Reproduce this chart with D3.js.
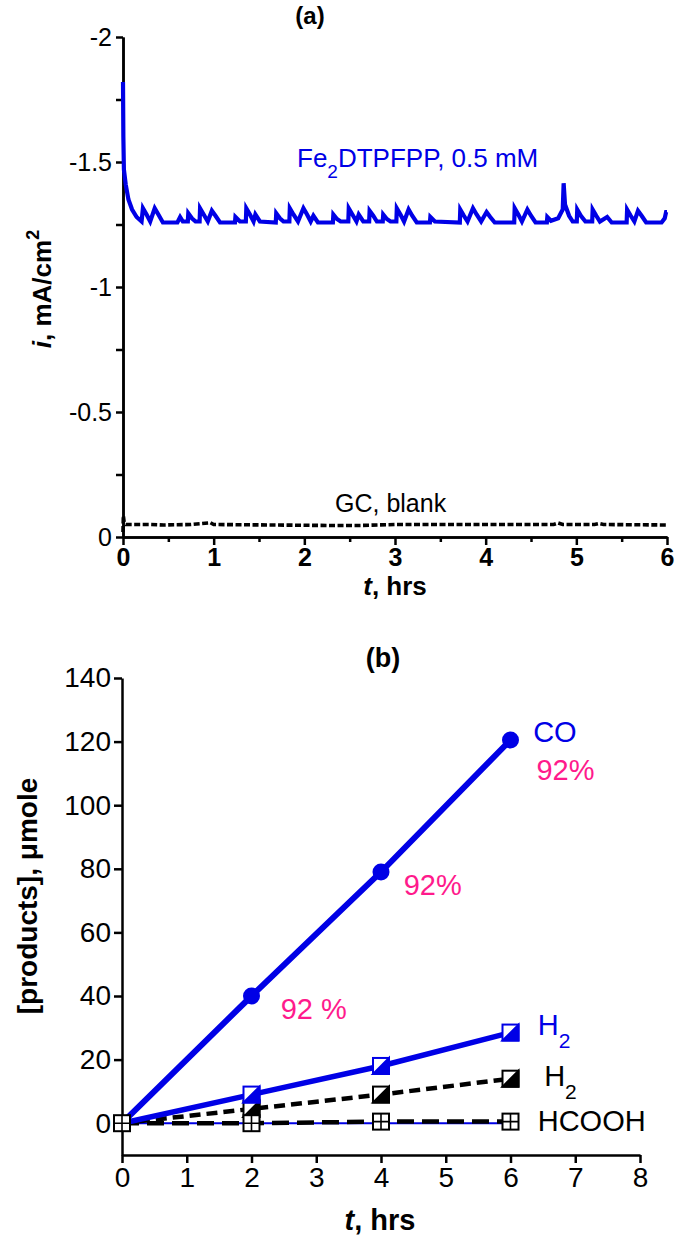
<!DOCTYPE html>
<html><head><meta charset="utf-8">
<script src="https://cdn.jsdelivr.net/npm/d3@7"></script>
<style>
body{margin:0;background:#fff}
svg{display:block}
text{font-family:"Liberation Sans",Arial,Helvetica,sans-serif}
</style>
</head><body>
<svg id="c" width="675" height="1242"></svg>
<script>
// ---------- DATA ----------
// Panel (a): current density vs time
const aTicksX = [0, 1, 2, 3, 4, 5, 6];
const aTicksY = [0, -0.5, -1, -1.5, -2];
const aMinorY = [-0.25, -0.75, -1.25, -1.75];
const aMinorX = [0.5, 1.5, 2.5, 3.5, 4.5, 5.5];
const blueTrace = [
[0.000,-1.82],[0.004,-1.60],[0.010,-1.47],[0.030,-1.41],[0.060,-1.35],[0.100,-1.31],[0.150,-1.28],[0.205,-1.262],
[0.220,-1.315],[0.260,-1.29],[0.300,-1.262],
[0.350,-1.315],[0.390,-1.29],[0.440,-1.258],
[0.600,-1.258],[0.630,-1.28],[0.660,-1.262],
[0.715,-1.262],[0.720,-1.295],[0.760,-1.275],[0.800,-1.262],
[0.845,-1.262],[0.850,-1.315],[0.890,-1.29],[0.935,-1.262],
[0.980,-1.305],[1.020,-1.285],[1.070,-1.258],
[1.235,-1.258],[1.240,-1.28],[1.290,-1.262],
[1.355,-1.262],[1.360,-1.315],[1.400,-1.29],[1.440,-1.262],
[1.460,-1.29],[1.510,-1.262],
[1.685,-1.258],[1.690,-1.295],[1.730,-1.275],[1.770,-1.262],
[1.835,-1.262],[1.840,-1.315],[1.880,-1.29],[1.930,-1.262],
[1.990,-1.315],[2.030,-1.29],[2.070,-1.262],
[2.100,-1.285],[2.150,-1.258],
[2.315,-1.258],[2.320,-1.29],[2.360,-1.272],[2.400,-1.262],
[2.485,-1.262],[2.490,-1.315],[2.530,-1.29],[2.575,-1.262],
[2.600,-1.29],[2.650,-1.262],
[2.715,-1.262],[2.720,-1.305],[2.760,-1.285],[2.800,-1.262],
[2.865,-1.262],[2.870,-1.29],[2.910,-1.272],[2.950,-1.262],
[3.015,-1.262],[3.020,-1.315],[3.060,-1.29],[3.100,-1.262],
[3.150,-1.31],[3.190,-1.285],[3.240,-1.258],
[3.385,-1.258],[3.390,-1.28],[3.440,-1.262],
[3.715,-1.258],[3.720,-1.31],[3.760,-1.285],[3.800,-1.262],
[3.860,-1.315],[3.900,-1.29],[3.950,-1.262],
[4.010,-1.30],[4.050,-1.28],[4.100,-1.258],
[4.315,-1.258],[4.320,-1.315],[4.360,-1.29],[4.400,-1.262],
[4.460,-1.31],[4.500,-1.285],[4.550,-1.258],
[4.675,-1.258],[4.680,-1.28],[4.720,-1.265],[4.800,-1.275],[4.850,-1.31],[4.860,-1.415],[4.875,-1.33],[4.920,-1.285],[4.960,-1.262],
[5.005,-1.262],[5.010,-1.31],[5.050,-1.285],[5.100,-1.262],
[5.175,-1.262],[5.180,-1.31],[5.220,-1.285],[5.260,-1.262],
[5.340,-1.28],[5.390,-1.258],
[5.555,-1.258],[5.560,-1.31],[5.600,-1.285],[5.640,-1.262],
[5.680,-1.305],[5.720,-1.285],[5.770,-1.258],
[5.940,-1.258],[5.975,-1.275],[5.990,-1.30],[6.000,-1.30]
];
const blankTrace = [
[0.000,-0.02],[0.004,-0.085],[0.012,-0.06],[0.030,-0.05],[0.300,-0.05],[0.450,-0.048],[0.750,-0.05],
[0.940,-0.056],[0.960,-0.058],[1.000,-0.05],[2.300,-0.046],[2.600,-0.046],[3.000,-0.05],[3.250,-0.05],
[4.750,-0.05],[4.800,-0.056],[4.850,-0.05],[5.200,-0.05],[5.250,-0.054],[5.300,-0.05],[6.000,-0.048]
];

// Panel (b): products vs time
const bTicksX = [0, 1, 2, 3, 4, 5, 6, 7, 8];
const bTicksY = [0, 20, 40, 60, 80, 100, 120, 140];
const hours = [0, 2, 4, 6];
const coValues = [0, 40, 79, 120.5];
const h2CatValues = [0, 9, 18, 28.5];
const h2BlankValues = [0, 4.5, 9, 14];
const hcoohValues = [0, 0, 0.5, 0.5];
const blueBaseValues = [0, 0, 0, 0];
const faradaic = [
  {text: "92 %", t: 2.45, v: 36},
  {text: "92%", t: 4.35, v: 75},
  {text: "92%", t: 6.4, v: 111}
];

// ---------- DRAW ----------
const BLUE = "#0000e6", PINK = "#ff1a8c";
const FF = "Liberation Sans, Arial, sans-serif";
const svg = d3.select("#c");

// ===== Panel (a) =====
const xA = d3.scaleLinear().domain([0, 6]).range([123, 667]);
const yA = d3.scaleLinear().domain([0, -2]).range([537, 37]);

const gA = svg.append("g");
gA.append("g").attr("transform", `translate(0,${yA(0)})`)
  .call(d3.axisBottom(xA).tickValues(aTicksX).tickFormat(d3.format("d")).tickSize(8).tickSizeOuter(0).tickPadding(3))
  .call(g => g.selectAll("text").attr("font-size", 25).attr("font-weight", "bold").attr("font-family", FF));
gA.append("g").attr("transform", `translate(0,${yA(0)})`)
  .call(d3.axisBottom(xA).tickValues(aMinorX).tickFormat("").tickSize(5).tickSizeOuter(0));
gA.append("g").attr("transform", `translate(${xA(0)},0)`)
  .call(d3.axisLeft(yA).tickValues(aTicksY).tickFormat(d => d === 0 ? "0" : String(d).replace("−", "-")).tickSize(7).tickSizeOuter(0).tickPadding(4))
  .call(g => g.selectAll("text").attr("font-size", 25).attr("font-family", FF));
gA.append("g").attr("transform", `translate(${xA(0)},0)`)
  .call(d3.axisLeft(yA).tickValues(aMinorY).tickFormat("").tickSize(7).tickSizeOuter(0));
gA.selectAll(".domain, .tick line").attr("stroke", "#000").attr("stroke-width", 2.5);

const lineA = d3.line().x(d => xA(d[0])).y(d => yA(d[1]));
gA.append("path").datum(blankTrace).attr("d", lineA).attr("fill", "none")
  .attr("stroke", "#000").attr("stroke-width", 3.6).attr("stroke-dasharray", "6,2.5");
gA.append("path").datum(blueTrace).attr("d", lineA).attr("fill", "none")
  .attr("stroke", BLUE).attr("stroke-width", 4.2).attr("stroke-linejoin", "miter");

// texts (a)
svg.append("text").attr("x", 310).attr("y", 24).attr("text-anchor", "middle")
  .attr("font-size", 24).attr("font-weight", "bold").text("(a)");
const fe = svg.append("text").attr("x", 297).attr("y", 167).attr("fill", BLUE).attr("font-size", 26);
fe.append("tspan").text("Fe");
fe.append("tspan").attr("font-size", 19).attr("dy", 11).text("2");
fe.append("tspan").attr("dy", -11).text("DTPFPP, 0.5 mM");
svg.append("text").attr("x", 335).attr("y", 512).attr("font-size", 25).text("GC, blank");
const ylA = svg.append("text").attr("transform", "translate(51,289) rotate(-90)")
  .attr("text-anchor", "middle").attr("font-size", 26).attr("font-weight", "bold");
ylA.append("tspan").attr("font-style", "italic").text("i");
ylA.append("tspan").text(", mA/cm");
ylA.append("tspan").attr("font-size", 18).attr("dy", -12).text("2");
const xlA = svg.append("text").attr("x", 395).attr("y", 595).attr("text-anchor", "middle")
  .attr("font-size", 26).attr("font-weight", "bold");
xlA.append("tspan").attr("font-style", "italic").text("t");
xlA.append("tspan").text(", hrs");

// ===== Panel (b) =====
const xB = d3.scaleLinear().domain([0, 8]).range([122, 640]);
const yB = d3.scaleLinear().domain([-10, 140]).range([1155, 678]);

const gB = svg.append("g");
gB.append("g").attr("transform", `translate(0,${yB(-10)})`)
  .call(d3.axisBottom(xB).tickValues(bTicksX).tickFormat(d3.format("d")).tickSize(8).tickSizeOuter(0).tickPadding(4))
  .call(g => g.selectAll("text").attr("font-size", 28).attr("font-family", FF));
gB.append("g").attr("transform", `translate(${xB(0)},0)`)
  .call(d3.axisLeft(yB).tickValues(bTicksY).tickFormat(d3.format("d")).tickSize(8).tickSizeOuter(0).tickPadding(3))
  .call(g => g.selectAll("text").attr("font-size", 28).attr("font-family", FF));
gB.selectAll(".domain, .tick line").attr("stroke", "#000").attr("stroke-width", 2.5);

const lineB = vals => d3.line().x((d, i) => xB(hours[i])).y(d => yB(d))(vals);
gB.append("path").attr("d", lineB(blueBaseValues)).attr("fill", "none").attr("stroke", BLUE).attr("stroke-width", 2);
gB.append("path").attr("d", lineB(hcoohValues)).attr("fill", "none").attr("stroke", "#000").attr("stroke-width", 4.5).attr("stroke-dasharray", "17,8");
gB.append("path").attr("d", lineB(h2BlankValues)).attr("fill", "none").attr("stroke", "#000").attr("stroke-width", 4.5).attr("stroke-dasharray", "11,6");
gB.append("path").attr("d", lineB(h2CatValues)).attr("fill", "none").attr("stroke", BLUE).attr("stroke-width", 5.5);
gB.append("path").attr("d", lineB(coValues)).attr("fill", "none").attr("stroke", BLUE).attr("stroke-width", 6);

const S = 16;
function halfSquare(vals, col) {
  vals.forEach((v, i) => {
    if (i === 0) return;
    const cx = xB(hours[i]), cy = yB(v);
    gB.append("rect").attr("x", cx - S/2).attr("y", cy - S/2).attr("width", S).attr("height", S)
      .attr("fill", "#fff").attr("stroke", col).attr("stroke-width", 2);
    gB.append("path").attr("d", `M${cx + S/2},${cy - S/2}L${cx + S/2},${cy + S/2}L${cx - S/2},${cy + S/2}Z`)
      .attr("fill", col).attr("stroke", col).attr("stroke-width", 2).attr("stroke-linejoin", "miter");
  });
}
halfSquare(h2BlankValues, "#000");
halfSquare(h2CatValues, BLUE);
coValues.forEach((v, i) => {
  if (i === 0) return;
  gB.append("circle").attr("cx", xB(hours[i])).attr("cy", yB(v)).attr("r", 8.5).attr("fill", BLUE);
});
hcoohValues.forEach((v, i) => {
  const cx = xB(hours[i]), cy = yB(v);
  gB.append("rect").attr("x", cx - S/2).attr("y", cy - S/2).attr("width", S).attr("height", S)
    .attr("fill", "#fff").attr("stroke", "#000").attr("stroke-width", 2);
  gB.append("path").attr("d", `M${cx - S/2},${cy}H${cx + S/2}M${cx},${cy - S/2}V${cy + S/2}`)
    .attr("stroke", "#000").attr("stroke-width", 1.6);
});

// texts (b)
svg.append("text").attr("x", 383).attr("y", 667).attr("text-anchor", "middle")
  .attr("font-size", 27).attr("font-weight", "bold").text("(b)");
svg.append("text").attr("transform", "translate(37,896) rotate(-90)")
  .attr("text-anchor", "middle").attr("font-size", 28).attr("font-weight", "bold")
  .text("[products], μmole");
const xlB = svg.append("text").attr("x", 380).attr("y", 1230).attr("text-anchor", "middle")
  .attr("font-size", 29).attr("font-weight", "bold");
xlB.append("tspan").attr("font-style", "italic").text("t");
xlB.append("tspan").text(", hrs");

svg.append("text").attr("x", xB(6.35)).attr("y", yB(123) + 10).attr("fill", BLUE).attr("font-size", 29).text("CO");
faradaic.forEach(f => {
  svg.append("text").attr("x", xB(f.t)).attr("y", yB(f.v) + 10).attr("fill", PINK).attr("font-size", 29).text(f.text);
});
function subLabel(t, v, col, main, sub) {
  const tx = svg.append("text").attr("x", xB(t)).attr("y", yB(v) + 10).attr("fill", col).attr("font-size", 29);
  tx.append("tspan").text(main);
  tx.append("tspan").attr("font-size", 21).attr("dy", 13).text(sub);
}
subLabel(6.42, 31, BLUE, "H", "2");
subLabel(6.52, 15, "#000", "H", "2");
svg.append("text").attr("x", xB(6.42)).attr("y", yB(0.8) + 10).attr("font-size", 29).text("HCOOH");
</script>
</body></html>
